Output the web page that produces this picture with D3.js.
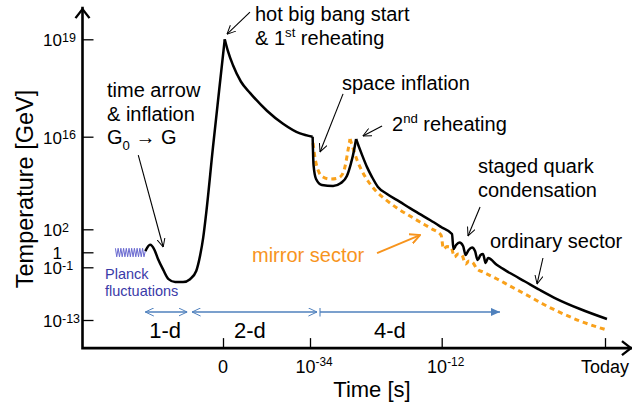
<!DOCTYPE html>
<html>
<head>
<meta charset="utf-8">
<script src="https://cdn.jsdelivr.net/npm/d3@7"></script>
<style>
  body { margin: 0; background: #fff; }
  svg { display: block; font-family: "Liberation Sans", Arial, Helvetica, sans-serif; }
</style>
</head>
<body>
<svg id="chart" width="632" height="404"></svg>
<script>
// time is an era index: 0 = bang, 1 = 1e-34 s, 2 = 1e-12 s, 3 = today (negative = before the bang)
// temperature is log10(T / GeV)
const xTicks = [0, 1, 2, 3];
const xTickLabels = [["0", ""], ["10", "-34"], ["10", "-12"], ["Today", ""]];
const yTicks = [19, 16, 2, 0, -1, -13];

// ordinary sector, split where the curve has a sharp corner
const ordinaryPreBang = [[-0.885, 0.1], [-0.83, 0.65], [-0.78, 0.2], [-0.74, -0.45], [-0.68, -1.6], [-0.62, -3.7],
  [-0.545, -4.35], [-0.455, -4.35], [-0.375, -3.7], [-0.305, -1.85], [-0.26, -0.2], [-0.225, 1.3], [-0.19, 4.6],
  [-0.115, 14.3], [-0.045, 17.4], [0.02, 19]];
const ordinaryHot = [[0.02, 19], [0.055, 18.65], [0.115, 18.2], [0.205, 17.7], [0.31, 17.35], [0.505, 16.8],
  [0.69, 16.4], [0.885, 16.1], [1.02, 16.0]];
const ordinaryInflation = [[1.02, 16.0], [1.027, 11.7], [1.046, 9.6], [1.09, 8.7], [1.175, 8.55], [1.235, 9.0],
  [1.28, 10.05], [1.31, 11.9], [1.335, 14.0], [1.35, 15.65]];
const ordinaryCooling = [[1.35, 15.65], [1.372, 14.45], [1.395, 13.25], [1.433, 11.4], [1.471, 9.9], [1.516, 8.4],
  [1.585, 7.35], [1.683, 6.15], [1.759, 5.2], [1.835, 4.3], [1.911, 3.4], [1.995, 2.35], [2.063, 1.59],
  [2.072, 0.29], [2.088, 0.63], [2.109, 0.85], [2.131, 0.55], [2.146, -0.18], [2.165, 0.2], [2.186, 0.42],
  [2.204, 0.11], [2.22, -0.51], [2.238, -0.18], [2.253, -0.11], [2.269, -0.71], [2.284, -0.38], [2.339, -0.85],
  [2.418, -2.3], [2.51, -4.23], [2.602, -6.17], [2.706, -8.22], [2.847, -10.49], [3.012, -12.77]];

// mirror sector
const mirrorInflation = [[1.023, 15.05], [1.038, 12.8], [1.061, 10.95], [1.099, 9.9], [1.152, 9.6], [1.213, 9.75],
  [1.251, 10.5], [1.273, 12.15], [1.289, 14.0], [1.304, 15.65]];
const mirrorCooling = [[1.304, 15.65], [1.326, 14.29], [1.357, 12.48], [1.395, 10.81], [1.44, 9.3], [1.494, 7.94],
  [1.569, 6.58], [1.66, 5.22], [1.759, 4.01], [1.835, 3.1], [1.926, 2.05], [1.995, 1.5], [2.011, 0.29],
  [2.032, 0.5], [2.057, 0.46], [2.078, -0.31], [2.1, -0.11], [2.124, -0.18], [2.146, -0.78], [2.167, -0.58],
  [2.192, -0.71], [2.216, -1.39], [2.253, -2.07], [2.339, -3.66], [2.418, -5.26], [2.51, -7.08], [2.62, -9.36],
  [2.706, -10.95], [2.847, -13.23], [3.012, -15.28]];

// planck fluctuations zigzag
const planckWiggle = [[-1.225, 0.35], [-1.21, -0.3], [-1.194, 0.35], [-1.179, -0.3], [-1.163, 0.35], [-1.148, -0.3],
  [-1.132, 0.35], [-1.117, -0.3], [-1.101, 0.35], [-1.086, -0.3], [-1.07, 0.35], [-1.055, -0.3], [-1.04, 0.35],
  [-1.024, -0.3], [-1.009, 0.35], [-0.993, -0.3], [-0.978, 0.35], [-0.962, -0.3], [-0.947, 0.35], [-0.931, -0.3],
  [-0.916, 0.35], [-0.9, -0.3], [-0.885, 0.1]];

// dimensional eras
const eraNames = ["1-d", "2-d", "4-d"];
const eraStart = [-0.885, -0.352, 1.076];
const eraEnd = [-0.409, 1.053, 2.357];
const eraLabelAt = [-0.658, 0.31, 1.607];

// callout arrows (tail, head)
const calloutFrom = [[-0.965, 13.23], [0.31, 19.84], [1.251, 17.32], [1.547, 16.33], [2.235, 5.37], [2.62, -0.38]];
const calloutTo = [[-0.681, 0.46], [0.046, 19.16], [1.076, 13.69], [1.402, 16.02], [2.161, 1.42], [2.584, -4.8]];
const mirrorFrom = [1.509, -0.05];
const mirrorTo = [1.835, 1.5];

const svg = d3.select("#chart");
const ORANGE = "#f7941d", DASH_ORANGE = "#f9a11b", BLUE = "#4f81bd", PLANCK = "#3a3aa8";

const x = d3.scaleLinear().domain([-1.6, 0, 1, 2, 3]).range([82.5, 223, 310, 441.7, 605]);
const y = d3.scaleLinear().domain([-13, -1, 0, 2, 16, 19]).range([320, 267.3, 252.3, 229.3, 136.7, 39.3]);
const xLeft = -1.6, xRight = 3.165, yBottom = -19.4, yTop = 19.96;

// markers
const defs = svg.append("defs");
function marker(id, vb, ref, w, h, d, fill, stroke, sw) {
  defs.append("marker").attr("id", id).attr("viewBox", vb).attr("refX", ref[0]).attr("refY", ref[1])
    .attr("markerWidth", w).attr("markerHeight", h).attr("markerUnits", "userSpaceOnUse")
    .attr("orient", "auto-start-reverse")
    .append("path").attr("d", d).attr("fill", fill).attr("stroke", stroke).attr("stroke-width", sw);
}
marker("openBlack", "0 0 10 10", [9.5, 5], 9, 9, "M0,0.5L9.5,5L0,9.5", "none", "#000", 1.1);
marker("openBlue", "0 0 10 10", [9.5, 5], 9, 9, "M0,0.5L9.5,5L0,9.5", "none", BLUE, 1.1);
marker("fillBlue", "0 0 10 10", [10, 5], 9, 9, "M0,0.5L10,5L0,9.5Z", BLUE, "none", 0);
marker("barBlue", "0 0 4 10", [2, 5], 4, 9, "M2,0L2,10", "none", BLUE, 1.2);
marker("openOrange", "0 0 10 10", [9, 5], 11, 11, "M0,0.5L9,5L0,9.5", "none", ORANGE, 1.8);

// ticks via d3 axes
svg.append("g").attr("transform", `translate(${x(xLeft)},0)`)
  .call(d3.axisLeft(y).tickValues(yTicks).tickSizeInner(-11).tickSizeOuter(0).tickFormat(""));
svg.append("g").attr("transform", `translate(0,${y(yBottom)})`)
  .call(d3.axisBottom(x).tickValues(xTicks).tickSizeInner(-10).tickSizeOuter(0).tickFormat(""));
svg.selectAll(".domain").remove();
svg.selectAll(".tick line").attr("stroke", "#000").attr("stroke-width", 1.3);

// axis lines with chevron heads
const x0 = x(xLeft), y0 = y(yBottom), yT = y(yTop), xR = x(xRight);
svg.append("path").attr("d", `M${x0},${y0}V${yT}M${x0},${y0}H${xR}`)
  .attr("fill", "none").attr("stroke", "#000").attr("stroke-width", 2.6).attr("stroke-linecap", "square");
svg.append("path").attr("d", `M${x0 - 7},${yT + 10}L${x0},${yT + 1}L${x0 + 7},${yT + 10}M${xR - 10},${y0 - 7}L${xR - 1},${y0}L${xR - 10},${y0 + 7}`)
  .attr("fill", "none").attr("stroke", "#000").attr("stroke-width", 2.4);

// text helper with super / subscripts
function addText(xp, yp, parts, size, color, anchor) {
  const t = svg.append("text").attr("x", xp).attr("y", yp).attr("font-size", size)
    .attr("fill", color || "#000").attr("text-anchor", anchor || "start");
  let shift = 0;
  parts.forEach(p => {
    const str = Array.isArray(p) ? p[0] : p, kind = Array.isArray(p) ? p[1] : null;
    const target = kind === "sup" ? -0.38 * size : kind === "sub" ? 0.3 * size : 0;
    const s = t.append("tspan").text(str).attr("dy", target - shift);
    if (kind) s.attr("font-size", size * 0.66);
    shift = target;
  });
  return t;
}

// y tick labels: base right-aligned, exponent after it
yTicks.forEach(v => {
  const bx = x0 - 20.5;
  svg.append("text").attr("x", bx).attr("y", y(v) + 7).attr("text-anchor", "end")
    .attr("font-size", 17).text(v === 0 ? "1" : "10");
  if (v !== 0) {
    svg.append("text").attr("x", bx).attr("y", y(v) + 2.5).attr("font-size", 12.5).text(String(v));
  }
});

// x tick labels
xTicks.forEach((v, i) => {
  const [base, exp] = xTickLabels[i];
  const parts = exp ? [base, [exp, "sup"]] : [base];
  addText(x(v) + (exp ? 4 : 0), y0 + 24.5, parts, 18, "#000", "middle");
});

// axis titles
svg.append("text").attr("transform", `translate(32.5,189) rotate(-90)`).attr("text-anchor", "middle")
  .attr("font-size", 23.5).text("Temperature [GeV]");
svg.append("text").attr("x", 372).attr("y", 397).attr("text-anchor", "middle")
  .attr("font-size", 22).text("Time [s]");

// curves
const line = d3.line().x(d => x(d[0])).y(d => y(d[1])).curve(d3.curveMonotoneX);
[mirrorInflation, mirrorCooling].forEach(seg => {
  svg.append("path").datum(seg).attr("d", line).attr("fill", "none")
    .attr("stroke", DASH_ORANGE).attr("stroke-width", 3).attr("stroke-dasharray", "5,4");
});
[ordinaryPreBang, ordinaryHot, ordinaryInflation, ordinaryCooling].forEach(seg => {
  svg.append("path").datum(seg).attr("d", line).attr("fill", "none")
    .attr("stroke", "#000").attr("stroke-width", 2.5).attr("stroke-linejoin", "round");
});
svg.append("path").datum(planckWiggle).attr("d", d3.line().x(d => x(d[0])).y(d => y(d[1])))
  .attr("fill", "none").attr("stroke", "#6a6ad0").attr("stroke-width", 1);

// era arrows
const eraY = 312;
eraNames.forEach((name, i) => {
  const last = i === eraNames.length - 1;
  svg.append("line").attr("x1", x(eraStart[i])).attr("x2", x(eraEnd[i])).attr("y1", eraY).attr("y2", eraY)
    .attr("stroke", BLUE).attr("stroke-width", 1.3)
    .attr("marker-start", last ? "url(#barBlue)" : "url(#openBlue)")
    .attr("marker-end", last ? "url(#fillBlue)" : "url(#openBlue)");
  svg.append("text").attr("x", x(eraLabelAt[i])).attr("y", eraY + 26).attr("text-anchor", "middle")
    .attr("font-size", 22).text(name);
});

// callouts
calloutFrom.forEach((f, i) => {
  const t = calloutTo[i];
  svg.append("line").attr("x1", x(f[0])).attr("y1", y(f[1])).attr("x2", x(t[0])).attr("y2", y(t[1]))
    .attr("stroke", "#000").attr("stroke-width", 1.1).attr("marker-end", "url(#openBlack)");
});
svg.append("line").attr("x1", x(mirrorFrom[0])).attr("y1", y(mirrorFrom[1]))
  .attr("x2", x(mirrorTo[0])).attr("y2", y(mirrorTo[1]))
  .attr("stroke", ORANGE).attr("stroke-width", 2).attr("marker-end", "url(#openOrange)");

// annotation text
addText(107, 97, ["time arrow"], 20);
addText(107, 120.5, ["& inflation"], 20);
addText(107, 144, ["G", ["0", "sub"], " \u2192 G"], 20);
addText(255, 21, ["hot big bang start"], 20);
addText(255, 45, ["& 1", ["st", "sup"], " reheating"], 20);
addText(342, 90, ["space inflation"], 20);
addText(392, 131, ["2", ["nd", "sup"], " reheating"], 20);
addText(478, 173, ["staged quark"], 20);
addText(478, 197, ["condensation"], 20);
addText(490, 248, ["ordinary sector"], 20);
addText(252, 262, ["mirror sector"], 20, ORANGE);
addText(105, 279, ["Planck"], 14.5, PLANCK);
addText(105, 296, ["fluctuations"], 14.5, PLANCK);
</script>
</body>
</html>
